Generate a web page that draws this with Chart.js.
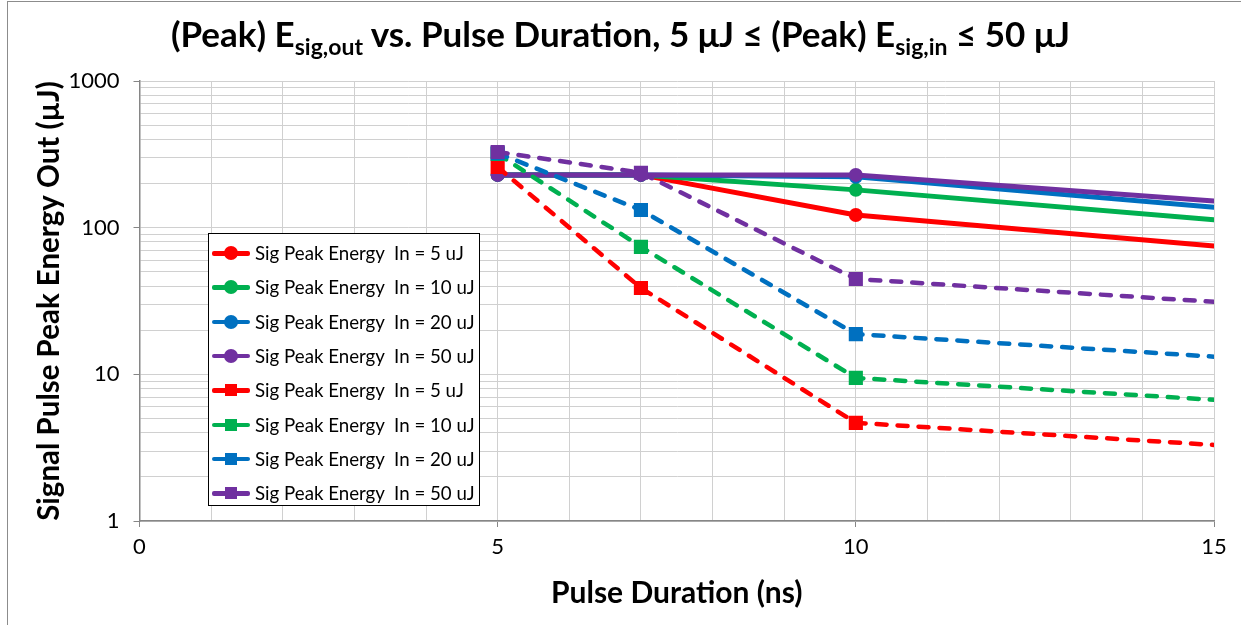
<!DOCTYPE html>
<html>
<head>
<meta charset="utf-8">
<script src="https://cdn.jsdelivr.net/npm/chart.js@4.4.1/dist/chart.umd.min.js"></script>
<style>
  html, body { margin: 0; padding: 0; background: #fff; }
  #wrap { position: relative; width: 1241px; height: 625px; overflow: hidden; font-family: "Lato", sans-serif; }
  #frame { position: absolute; left: 7px; top: 1px; width: 1300px; height: 700px; border-left: 1px solid #8c8c8c; border-top: 1px solid #8c8c8c; }
  canvas { position: absolute; left: 0; top: 0; }
  #title { position: absolute; left: 0; top: 12px; width: 1241px; text-align: center; font-weight: bold; font-size: 35px; color: #000; white-space: nowrap; }
  #title sub { font-size: 23px; vertical-align: -8px; line-height: 0; }
  #legend { position: absolute; left: 208px; top: 233px; width: 272px; height: 273px; background: #fff; border: 1px solid #000; box-sizing: border-box; }
  .row { position: absolute; left: 3px; height: 20px; display: flex; align-items: center; }
  .sample { position: relative; width: 38px; height: 20px; margin-right: 5px; }
  .sample .ln { position: absolute; left: 0; right: 0; top: 8px; height: 4.5px; border-radius: 2px; }
  .sample .mk { position: absolute; left: 12px; top: 3px; width: 14px; height: 14px; }
  .sample .mk.circ { border-radius: 50%; }
  .row span { font-size: 18.7px; color: #000; white-space: pre; }
</style>
</head>
<body>
<div id="wrap">
  <canvas id="chart" width="1241" height="625"></canvas>
  <div id="frame"></div>
  <div id="title">(Peak) E<sub>sig,out</sub> vs. Pulse Duration, 5 μJ ≤ (Peak) E<sub>sig,in</sub> ≤ 50 μJ</div>
  <div id="legend"></div>
</div>
<script>
"use strict";

// pulse duration (ns)
const durations = [5, 7, 10, 15];

// solid lines, circle markers
const solid5 = [229, 229, 122, 75];
const solid10 = [229, 229, 181, 113];
const solid20 = [229, 229, 222, 138];
const solid50 = [229, 229, 229, 152];

// dashed lines, square markers
const dash5 = [259, 38.8, 4.67, 3.3];
const dash10 = [318, 74, 9.45, 6.7];
const dash20 = [322, 132, 18.8, 13.2];
const dash50 = [328, 237, 44.7, 31.2];

const seriesLabels = [
  "Sig Peak Energy  In = 5 uJ",
  "Sig Peak Energy  In = 10 uJ",
  "Sig Peak Energy  In = 20 uJ",
  "Sig Peak Energy  In = 50 uJ"
];

const xTickLabels = [0, 5, 10, 15];
const yTickLabels = [1, 10, 100, 1000];

const COLORS = ["#ff0000", "#00b050", "#0070c0", "#7030a0"];
const AXIS = "#868686";
const GRID = "#d0d0d0";

function yGridValues() {
  const vals = [];
  for (let d = 1; d < 1000; d *= 10) {
    for (let m = 1; m < 10; m++) vals.push(d * m);
  }
  vals.push(1000);
  return vals;
}

function makeSet(values, idx, dashed) {
  return {
    label: seriesLabels[idx],
    data: durations.map((x, i) => ({ x, y: values[i] })),
    borderColor: COLORS[idx],
    backgroundColor: COLORS[idx],
    borderWidth: dashed ? 4.5 : 5,
    borderDash: dashed ? [10, 11] : [],
    borderCapStyle: "round",
    borderJoinStyle: "round",
    pointStyle: dashed ? "rect" : "circle",
    pointRadius: durations.map((x) => (x === 15 ? 0 : dashed ? 10 : 7)),
    pointBorderWidth: 0,
    tension: 0,
    fill: false
  };
}

const datasets = [
  makeSet(solid5, 0, false),
  makeSet(solid10, 1, false),
  makeSet(solid20, 2, false),
  makeSet(solid50, 3, false),
  makeSet(dash5, 0, true),
  makeSet(dash10, 1, true),
  makeSet(dash20, 2, true),
  makeSet(dash50, 3, true)
];
// excel paints the last series on top
datasets.forEach((ds, i) => { ds.order = datasets.length - i; });

new Chart(document.getElementById("chart"), {
  type: "line",
  data: { datasets },
  options: {
    responsive: false,
    animation: false,
    events: [],
    layout: { padding: { top: 81, right: 27, left: 0, bottom: 0 } },
    plugins: { legend: { display: false }, tooltip: { enabled: false } },
    scales: {
      x: {
        type: "linear",
        min: 0,
        max: 15,
        afterFit: (s) => { s.height = 104; },
        ticks: {
          stepSize: 1,
          autoSkip: false,
          maxRotation: 0,
          padding: 7,
          color: "#000",
          font: { family: "Lato", size: 22 },
          callback: (v) => (xTickLabels.includes(v) ? String(v) : "")
        },
        grid: {
          color: GRID,
          lineWidth: 1,
          tickLength: 6,
          tickColor: (ctx) => (ctx.tick && xTickLabels.includes(ctx.tick.value) ? AXIS : "rgba(0,0,0,0)")
        },
        border: { color: AXIS, width: 1.5 },
        title: {
          display: true,
          text: "Pulse Duration (ns)",
          color: "#000",
          font: { family: "Lato", size: 30, weight: "bold" },
          padding: { top: 0, bottom: 14 }
        }
      },
      y: {
        type: "logarithmic",
        min: 1,
        max: 1000,
        afterFit: (s) => { s.width = 139.5; },
        afterBuildTicks: (s) => { s.ticks = yGridValues().map((value) => ({ value })); },
        ticks: {
          autoSkip: false,
          padding: 14,
          color: "#000",
          font: { family: "Lato", size: 22 },
          callback: (v) => (yTickLabels.includes(v) ? String(v) : "")
        },
        grid: {
          color: GRID,
          lineWidth: 1,
          tickLength: 6,
          tickColor: (ctx) => (ctx.tick && yTickLabels.includes(ctx.tick.value) ? AXIS : "rgba(0,0,0,0)")
        },
        border: { color: AXIS, width: 1.5 },
        title: {
          display: true,
          text: "Signal Pulse Peak Energy Out (µJ)",
          color: "#000",
          font: { family: "Lato", size: 29.5, weight: "bold" },
          padding: { top: 32, bottom: 0 }
        }
      }
    }
  }
});

function buildLegend() {
  const box = document.getElementById("legend");
  datasets.forEach((ds, i) => {
    const row = document.createElement("div");
    row.className = "row";
    row.style.top = `${9 + i * 34.3}px`;
    const round = ds.pointStyle === "circle";
    row.innerHTML = `
      <div class="sample">
        <div class="ln" style="background:${ds.borderColor}"></div>
        <div class="mk ${round ? "circ" : ""}" style="background:${ds.borderColor};${round ? "" : "left:13px;top:4px;width:12px;height:12px;"}"></div>
      </div>
      <span>${ds.label}</span>`;
    box.appendChild(row);
  });
}

buildLegend();
</script>
</body>
</html>
